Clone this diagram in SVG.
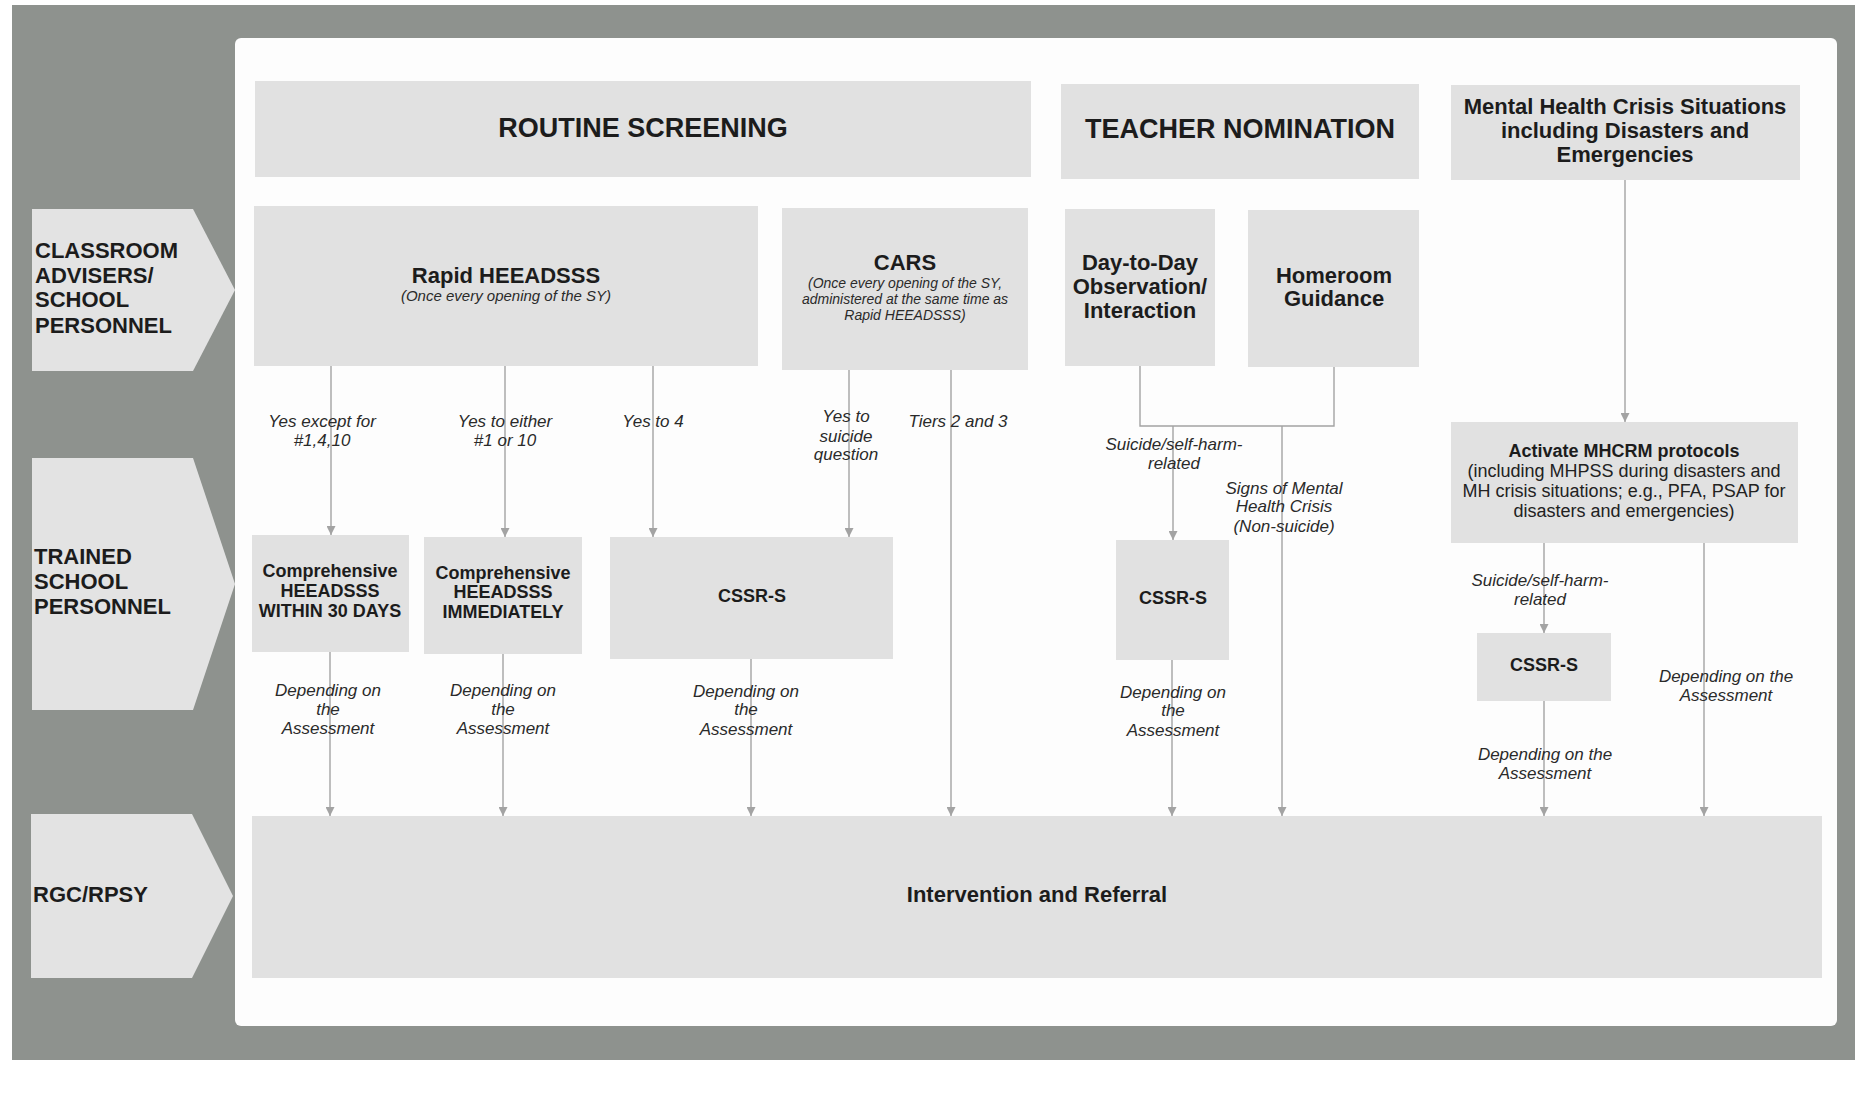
<svg xmlns="http://www.w3.org/2000/svg" width="1865" height="1094" viewBox="0 0 1865 1094">
<style>
.box{fill:#e1e1e1}
.lane{fill:#e3e3e3}
.b{font-family:"Liberation Sans",Arial,sans-serif;font-weight:bold;fill:#1c1c1c}
.i{font-family:"Liberation Sans",Arial,sans-serif;font-style:italic;fill:#2a2a2a}
.r{font-family:"Liberation Sans",Arial,sans-serif;fill:#222}
.c{text-anchor:middle}
.ln{fill:none;stroke:#a3a3a3;stroke-width:1.4}
.la{fill:none;stroke:#a3a3a3;stroke-width:1.4;marker-end:url(#ah)}
</style>
<defs>
<marker id="ah" viewBox="0 0 10 10" refX="10" refY="5" markerWidth="10" markerHeight="9" orient="auto" markerUnits="userSpaceOnUse">
<path d="M0,0 L10,5 L0,10 Z" fill="#a3a3a3"/>
</marker>
</defs>
<rect x="0" y="0" width="1865" height="1094" fill="#ffffff"/>
<rect id="frame" x="12" y="5" width="1843" height="1055" fill="#8e928e"/>
<rect id="panel" x="235" y="38" width="1602" height="988" rx="6" fill="#fdfdfd"/>

<g id="lane-classroom">
<path class="lane" d="M32,209 L193,209 L235,290 L193,371 L32,371 Z"/>
<text class="b" font-size="22" x="35" y="258">CLASSROOM</text>
<text class="b" font-size="22" x="35" y="283">ADVISERS/</text>
<text class="b" font-size="22" x="35" y="307">SCHOOL</text>
<text class="b" font-size="22" x="35" y="333">PERSONNEL</text>
</g>
<g id="lane-trained">
<path class="lane" d="M32,458 L193,458 L235,584 L193,710 L32,710 Z"/>
<text class="b" font-size="22" x="34" y="564">TRAINED</text>
<text class="b" font-size="22" x="34" y="589">SCHOOL</text>
<text class="b" font-size="22" x="34" y="614">PERSONNEL</text>
</g>
<g id="lane-rgc">
<path class="lane" d="M31,814 L192,814 L233,896 L192,978 L31,978 Z"/>
<text class="b" font-size="22" x="33" y="902">RGC/RPSY</text>
</g>

<g id="connectors">
<path class="la" d="M331,366 V535"/>
<path class="la" d="M505,366 V537"/>
<path class="la" d="M653,366 V537"/>
<path class="la" d="M849,370 V537"/>
<path class="la" d="M951,370 V816"/>
<path class="ln" d="M1140,366 V426 H1334 V367"/>
<path class="la" d="M1173,426 V540"/>
<path class="la" d="M1282,426 V816"/>
<path class="la" d="M1625,180 V422"/>
<path class="la" d="M1544,543 V633"/>
<path class="la" d="M1704,543 V816"/>
<path class="la" d="M330,652 V816"/>
<path class="la" d="M503,654 V816"/>
<path class="la" d="M751,659 V816"/>
<path class="la" d="M1172,660 V816"/>
<path class="la" d="M1544,701 V816"/>
</g>

<g id="connector-labels">
<text class="i c" font-size="17" x="322" y="427">Yes except for</text>
<text class="i c" font-size="17" x="322" y="446">#1,4,10</text>
<text class="i c" font-size="17" x="505" y="427">Yes to either</text>
<text class="i c" font-size="17" x="505" y="446">#1 or 10</text>
<text class="i c" font-size="17" x="653" y="427">Yes to 4</text>
<text class="i c" font-size="17" x="846" y="422">Yes to</text>
<text class="i c" font-size="17" x="846" y="442">suicide</text>
<text class="i c" font-size="17" x="846" y="460">question</text>
<text class="i c" font-size="17" x="958" y="427">Tiers 2 and 3</text>
<text class="i c" font-size="17" x="1174" y="450">Suicide/self-harm-</text>
<text class="i c" font-size="17" x="1174" y="469">related</text>
<text class="i c" font-size="17" x="1284" y="494">Signs of Mental</text>
<text class="i c" font-size="17" x="1284" y="512">Health Crisis</text>
<text class="i c" font-size="17" x="1284" y="532">(Non-suicide)</text>
<text class="i c" font-size="17" x="1540" y="586">Suicide/self-harm-</text>
<text class="i c" font-size="17" x="1540" y="605">related</text>
<text class="i c" font-size="17" x="1545" y="760">Depending on the</text>
<text class="i c" font-size="17" x="1545" y="779">Assessment</text>
<text class="i c" font-size="17" x="1726" y="682">Depending on the</text>
<text class="i c" font-size="17" x="1726" y="701">Assessment</text>
<text class="i c" font-size="17" x="328" y="696">Depending on</text>
<text class="i c" font-size="17" x="328" y="715">the</text>
<text class="i c" font-size="17" x="328" y="734">Assessment</text>
<text class="i c" font-size="17" x="503" y="696">Depending on</text>
<text class="i c" font-size="17" x="503" y="715">the</text>
<text class="i c" font-size="17" x="503" y="734">Assessment</text>
<text class="i c" font-size="17" x="746" y="697">Depending on</text>
<text class="i c" font-size="17" x="746" y="715">the</text>
<text class="i c" font-size="17" x="746" y="735">Assessment</text>
<text class="i c" font-size="17" x="1173" y="698">Depending on</text>
<text class="i c" font-size="17" x="1173" y="716">the</text>
<text class="i c" font-size="17" x="1173" y="736">Assessment</text>
</g>

<g id="routine-screening">
<rect class="box" x="255" y="81" width="776" height="96"/>
<text class="b c" font-size="27" x="643" y="137">ROUTINE SCREENING</text>
</g>
<g id="teacher-nomination">
<rect class="box" x="1061" y="84" width="358" height="95"/>
<text class="b c" font-size="27" x="1240" y="138">TEACHER NOMINATION</text>
</g>
<g id="mh-crisis">
<rect class="box" x="1451" y="85" width="349" height="95"/>
<text class="b c" font-size="22" x="1625" y="114">Mental Health Crisis Situations</text>
<text class="b c" font-size="22" x="1625" y="138">including Disasters and</text>
<text class="b c" font-size="22" x="1625" y="162">Emergencies</text>
</g>
<g id="rapid-heeadsss">
<rect class="box" x="254" y="206" width="504" height="160"/>
<text class="b c" font-size="22" x="506" y="283">Rapid HEEADSSS</text>
<text class="i c" font-size="15" x="506" y="301">(Once every opening of the SY)</text>
</g>
<g id="cars">
<rect class="box" x="782" y="208" width="246" height="162"/>
<text class="b c" font-size="22" x="905" y="270">CARS</text>
<text class="i c" font-size="14" x="905" y="288">(Once every opening of the SY,</text>
<text class="i c" font-size="14" x="905" y="304">administered at the same time as</text>
<text class="i c" font-size="14" x="905" y="320">Rapid HEEADSSS)</text>
</g>
<g id="day-to-day">
<rect class="box" x="1065" y="209" width="150" height="157"/>
<text class="b c" font-size="22" x="1140" y="270">Day-to-Day</text>
<text class="b c" font-size="22" x="1140" y="294">Observation/</text>
<text class="b c" font-size="22" x="1140" y="318">Interaction</text>
</g>
<g id="homeroom">
<rect class="box" x="1248" y="210" width="171" height="157"/>
<text class="b c" font-size="22" x="1334" y="283">Homeroom</text>
<text class="b c" font-size="22" x="1334" y="306">Guidance</text>
</g>
<g id="comp-30">
<rect class="box" x="252" y="535" width="157" height="117"/>
<text class="b c" font-size="18" x="330" y="577">Comprehensive</text>
<text class="b c" font-size="18" x="330" y="597">HEEADSSS</text>
<text class="b c" font-size="18" x="330" y="617">WITHIN 30 DAYS</text>
</g>
<g id="comp-immediately">
<rect class="box" x="424" y="537" width="158" height="117"/>
<text class="b c" font-size="18" x="503" y="579">Comprehensive</text>
<text class="b c" font-size="18" x="503" y="598">HEEADSSS</text>
<text class="b c" font-size="18" x="503" y="618">IMMEDIATELY</text>
</g>
<g id="cssrs-1">
<rect class="box" x="610" y="537" width="283" height="122"/>
<text class="b c" font-size="18" x="752" y="602">CSSR-S</text>
</g>
<g id="cssrs-2">
<rect class="box" x="1116" y="540" width="113" height="120"/>
<text class="b c" font-size="18" x="1173" y="604">CSSR-S</text>
</g>
<g id="activate-mhcrm">
<rect class="box" x="1451" y="422" width="347" height="121"/>
<text class="b c" font-size="18" x="1624" y="457">Activate MHCRM protocols</text>
<text class="r c" font-size="18" x="1624" y="477">(including MHPSS during disasters and</text>
<text class="r c" font-size="18" x="1624" y="497">MH crisis situations; e.g., PFA, PSAP for</text>
<text class="r c" font-size="18" x="1624" y="517">disasters and emergencies)</text>
</g>
<g id="cssrs-3">
<rect class="box" x="1477" y="633" width="134" height="68"/>
<text class="b c" font-size="18" x="1544" y="671">CSSR-S</text>
</g>
<g id="intervention">
<rect class="box" x="252" y="816" width="1570" height="162"/>
<text class="b c" font-size="22" x="1037" y="902">Intervention and Referral</text>
</g>
</svg>
